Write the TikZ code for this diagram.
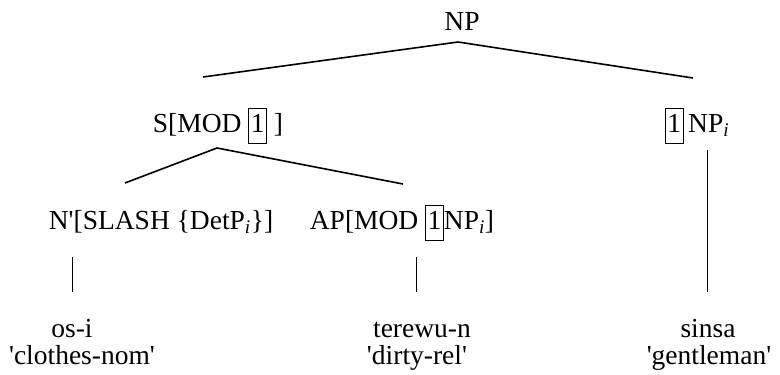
\documentclass[tikz,border=0pt]{standalone}
\usepackage{fontspec}
\setmainfont{Liberation Serif}
\usetikzlibrary{calc,positioning}
\newcommand{\tagbox}[1]{{\fboxsep=1.5pt\fboxrule=1pt\fbox{\strut#1}}}
\newcommand{\sq}{\textquotesingle}
\newcommand{\idx}{\textsubscript{\itshape i}}

\begin{document}
\begin{tikzpicture}[x=1pt,y=-1pt,
                    word/.style={inner sep=0pt,anchor=base,font=\fontsize{27.5}{31}\selectfont},
                    branch/.style={line width=1.6pt},
                    stem/.style={line width=1pt}]
  \useasboundingbox (0,0) rectangle (780,375);

  % categories
  \node[word] (np) at (462,30) {NP};
  \node[word] (smod) at (218,132) {S[MOD \tagbox{1} ]};
  \node[word] (npi) at (697,132) {\tagbox{1}\,NP\idx};
  \node[word] (nbar) at (161,229) {N\sq[SLASH \{DetP\idx\}]};
  \node[word] (ap) at (402,229) {AP[MOD \tagbox{1}NP\idx]};

  % words and glosses
  \node[word] (osi) at (72,337) {os-i};
  \node[word] (glossa) at (82,364) {\sq clothes-nom\sq};
  \node[word] (terewu) at (422,337) {terewu-n};
  \node[word] (glossb) at (417,364) {\sq dirty-rel\sq};
  \node[word] (sinsa) at (708,337) {sinsa};
  \node[word] (glossc) at (709,364) {\sq gentleman\sq};

  \draw[branch] ($(smod.base)+(-15,-55)$) -- ($(np.base)+(-4,12)$) -- ($(npi.base)+(-4,-54)$);
  \draw[branch] ($(nbar.base)+(-36,-46)$) -- ($(smod.base)+(-1,16)$) -- ($(ap.base)+(1,-45)$);

  \draw[stem] ($(osi.base)+(0,-80)$) -- ($(osi.base)+(0,-45)$);
  \draw[stem] ($(terewu.base)+(-6,-80)$) -- ($(terewu.base)+(-6,-45)$);
  \draw[stem] ($(sinsa.base)+(-1,-187)$) -- ($(sinsa.base)+(-1,-45)$);
\end{tikzpicture}
\end{document}
